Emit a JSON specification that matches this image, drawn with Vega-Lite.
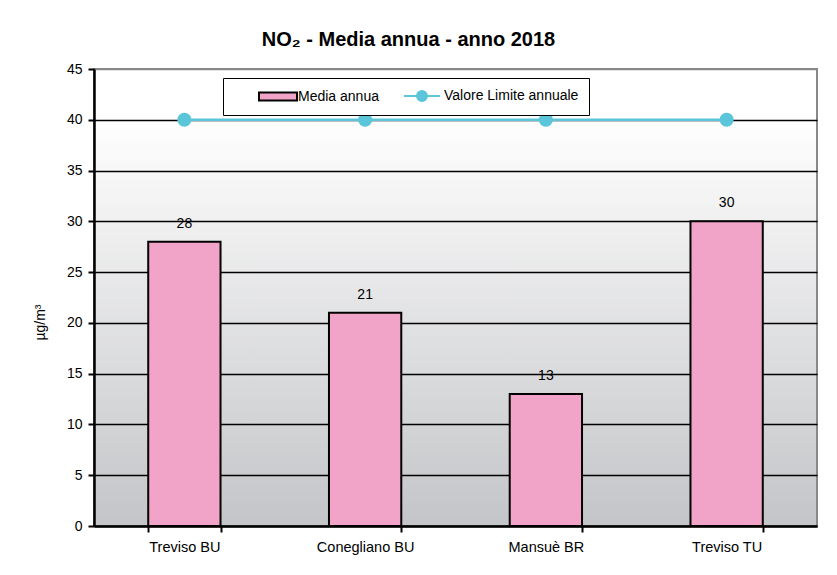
{
  "$schema": "https://vega.github.io/schema/vega-lite/v6.json",
  "width": 723,
  "height": 457,
  "autosize": {"type": "none"},
  "padding": {"left": 94, "top": 69, "right": 20, "bottom": 49},
  "background": "white",
  "title": {
    "text": "NO₂ - Media annua - anno 2018",
    "font": "Liberation Sans",
    "fontSize": 20,
    "fontWeight": "bold",
    "color": "black",
    "anchor": "middle",
    "dx": -47,
    "offset": 12
  },
  "data": {
    "values": [
      {"Stazione": "Treviso BU", "Media": 28, "Limite": 40},
      {"Stazione": "Conegliano BU", "Media": 21, "Limite": 40},
      {"Stazione": "Mansuè BR", "Media": 13, "Limite": 40},
      {"Stazione": "Treviso TU", "Media": 30, "Limite": 40}
    ]
  },
  "encoding": {
    "x": {
      "field": "Stazione",
      "type": "nominal",
      "sort": null,
      "scale": {"paddingInner": 0.6, "paddingOuter": 0.3},
      "axis": {
        "title": null,
        "labelAngle": 0,
        "labelFont": "Liberation Sans",
        "labelFontSize": 14.5,
        "labelColor": "black",
        "labelPadding": 8,
        "tickBand": "extent",
        "tickColor": "black",
        "tickSize": 6,
        "tickWidth": 2,
        "domainColor": "black",
        "domainWidth": 2.5,
        "grid": false
      }
    }
  },
  "layer": [
    {
      "mark": {"type": "bar", "fill": "#f2a4c8", "stroke": "black", "strokeWidth": 2},
      "encoding": {
        "y": {
          "field": "Media",
          "type": "quantitative",
          "scale": {"domain": [0, 45], "nice": false},
          "axis": {
            "title": "µg/m³",
            "titleFont": "Liberation Sans",
            "titleFontSize": 14,
            "titleFontWeight": "normal",
            "titleColor": "black",
            "titleX": -47,
            "titleY": 253,
            "values": [0, 5, 10, 15, 20, 25, 30, 35, 40, 45],
            "labelFont": "Liberation Sans",
            "labelFontSize": 14,
            "labelColor": "black",
            "labelPadding": 6,
            "tickColor": "black",
            "tickSize": 6,
            "tickWidth": 2,
            "domainColor": "black",
            "domainWidth": 2.5,
            "grid": true,
            "gridColor": {"condition": {"test": "datum.value == 45", "value": "#888888"}, "value": "black"},
            "gridWidth": 1.5,
            "gridOpacity": 1
          }
        }
      }
    },
    {
      "mark": {"type": "text", "baseline": "alphabetic", "dy": -14, "font": "Liberation Sans", "fontSize": 14, "color": "black"},
      "encoding": {
        "y": {"field": "Media", "type": "quantitative"},
        "text": {"field": "Media", "type": "quantitative"}
      }
    },
    {
      "mark": {"type": "line", "strokeWidth": 2.5, "stroke": "#5bc5da"},
      "encoding": {
        "y": {"field": "Limite", "type": "quantitative"}
      }
    },
    {
      "mark": {"type": "point", "filled": true, "size": 200, "opacity": 1, "fill": "#5bc5da"},
      "encoding": {
        "y": {"field": "Limite", "type": "quantitative"}
      }
    },
    {
      "mark": {"type": "point", "filled": true, "size": 200, "opacity": 0},
      "encoding": {
        "y": {"field": "Limite", "type": "quantitative"},
        "color": {
          "datum": "Valore Limite annuale",
          "scale": {
            "domain": ["Media annua", "Valore Limite annuale"],
            "range": ["#f2a4c8", "#5bc5da"]
          },
          "legend": {
            "orient": "none",
            "legendX": 129,
            "legendY": 9,
            "direction": "horizontal",
            "title": null,
            "strokeColor": "black",
            "fillColor": "white",
            "padding": 10,
            "columnPadding": 0,
            "labelFont": "Liberation Sans",
            "labelFontSize": 14,
            "labelColor": "black",
            "labelOffset": 49,
            "symbolSize": 196,
            "symbolOpacity": 1,
            "symbolStrokeWidth": 2
          }
        },
        "shape": {
          "datum": "Valore Limite annuale",
          "scale": {
            "domain": ["Media annua", "Valore Limite annuale"],
            "range": [
              "M2.57,-0.57H8V0.57H2.57Z",
              "M2.43,0H4.29M5.71,0H7.57M4.29,0A0.71,0.71,0,1,1,5.71,0A0.71,0.71,0,1,1,4.29,0Z"
            ]
          },
          "legend": {
            "orient": "none",
            "legendX": 129,
            "legendY": 9,
            "direction": "horizontal",
            "title": null,
            "strokeColor": "black",
            "fillColor": "white",
            "padding": 10,
            "columnPadding": 0,
            "labelFont": "Liberation Sans",
            "labelFontSize": 14,
            "labelColor": "black",
            "labelOffset": 49,
            "symbolSize": 196,
            "symbolOpacity": 1,
            "symbolStrokeWidth": 2
          }
        },
        "stroke": {
          "datum": "Valore Limite annuale",
          "scale": {
            "domain": ["Media annua", "Valore Limite annuale"],
            "range": ["black", "#5bc5da"]
          },
          "legend": {
            "orient": "none",
            "legendX": 129,
            "legendY": 9,
            "direction": "horizontal",
            "title": null,
            "strokeColor": "black",
            "fillColor": "white",
            "padding": 10,
            "columnPadding": 0,
            "labelFont": "Liberation Sans",
            "labelFontSize": 14,
            "labelColor": "black",
            "labelOffset": 49,
            "symbolSize": 196,
            "symbolOpacity": 1,
            "symbolStrokeWidth": 2
          }
        }
      }
    }
  ],
  "config": {
    "view": {
      "fill": {
        "gradient": "linear",
        "x1": 0, "y1": 0, "x2": 0, "y2": 1,
        "stops": [
          {"offset": 0, "color": "#ffffff"},
          {"offset": 0.1, "color": "#ffffff"},
          {"offset": 1, "color": "#c4c5c8"}
        ]
      },
      "stroke": "#888888",
      "strokeWidth": 2
    }
  }
}
